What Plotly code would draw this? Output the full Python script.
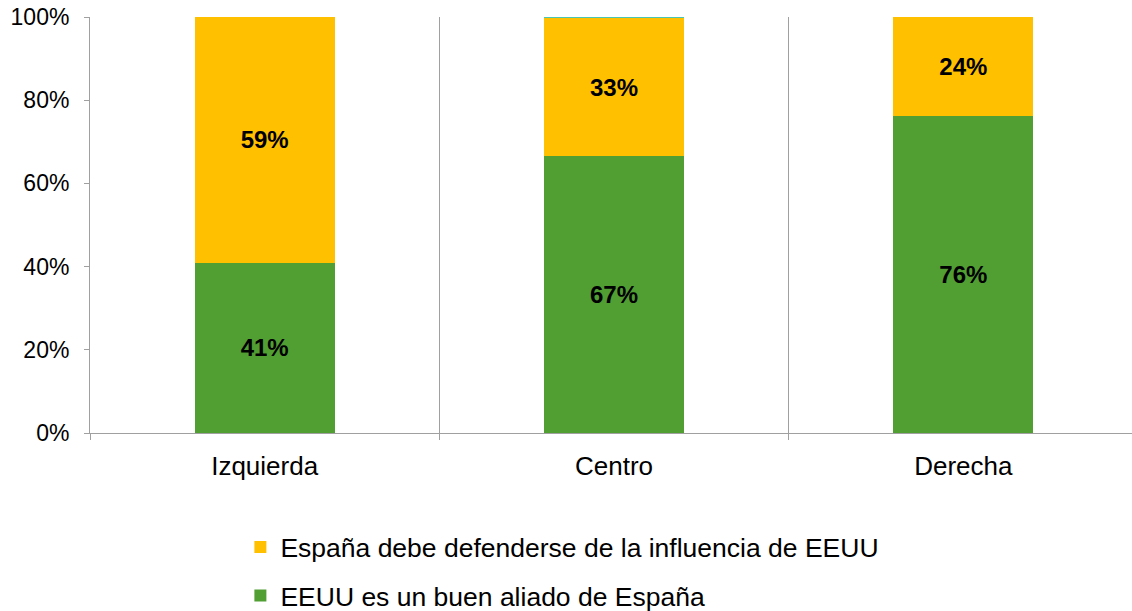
import plotly.graph_objects as go

categories = ["Izquierda", "Centro", "Derecha"]
aliado = [40.9, 66.6, 76.2]          # EEUU es un buen aliado de España
defenderse = [59.1, 33.1, 23.8]      # España debe defenderse de la influencia de EEUU
otros = [0.0, 0.3, 0.0]              # resto (sin etiqueta en leyenda)
y_ticks = [0, 20, 40, 60, 80, 100]
y_ticktext = ["0%", "20%", "40%", "60%", "80%", "100%"]

GREEN = "#519E33"
ORANGE = "#FFC000"
TEAL = "#4BC6B0"
GRID = "#A0A0A0"
FONT = "Liberation Sans, Arial, sans-serif"

fig = go.Figure()
fig.add_bar(x=categories, y=aliado, name="EEUU es un buen aliado de España",
            marker=dict(color=GREEN, line=dict(width=0)), legendrank=2, legendgroup="g2",
            texttemplate="%{y:.0f}%", textposition="inside", insidetextanchor="middle",
            textfont=dict(family=FONT, size=24, color="black", weight="bold"))
fig.add_bar(x=categories, y=defenderse, name="España debe defenderse de la influencia de EEUU",
            marker=dict(color=ORANGE, line=dict(width=0)), legendrank=1, legendgroup="g1",
            texttemplate="%{y:.0f}%", textposition="inside", insidetextanchor="middle",
            textfont=dict(family=FONT, size=24, color="black", weight="bold"))
fig.add_bar(x=categories, y=otros, name="Otros", showlegend=False,
            marker=dict(color=TEAL, line=dict(width=0)), hoverinfo="skip")

fig.update_layout(
    barmode="stack",
    bargap=0.6,
    hovermode=False,
    width=1138, height=611,
    margin=dict(l=90, r=0, t=17, b=178),
    paper_bgcolor="white", plot_bgcolor="white",
    font=dict(family=FONT, size=24, color="black"),
    showlegend=True,
    legend=dict(x=0.1435, xanchor="left", yref="container", y=0.1434, yanchor="top",
                orientation="v", traceorder="grouped", tracegroupgap=11,
                font=dict(family=FONT, size=26.5, color="black"),
                bgcolor="rgba(0,0,0,0)"),
    xaxis=dict(showline=True, linecolor=GRID, linewidth=1,
               tickson="boundaries", ticks="outside", ticklen=6, tickcolor=GRID,
               showgrid=True, gridcolor=GRID, gridwidth=1, automargin=False,
               ticklabelstandoff=10,
               tickfont=dict(family=FONT, size=26, color="black")),
    yaxis=dict(range=[0, 100], tickmode="array", tickvals=y_ticks, ticktext=y_ticktext,
               showline=True, linecolor=GRID, linewidth=1,
               ticks="outside", ticklen=5, tickcolor=GRID,
               showgrid=False, zeroline=False, automargin=False,
               ticklabelstandoff=10,
               tickfont=dict(family=FONT, size=23, color="black")),
)

fig.write_html("out.html", config={"displayModeBar": False, "staticPlot": True},
               post_script="document.body.style.margin='0';document.body.style.overflow='hidden';")
